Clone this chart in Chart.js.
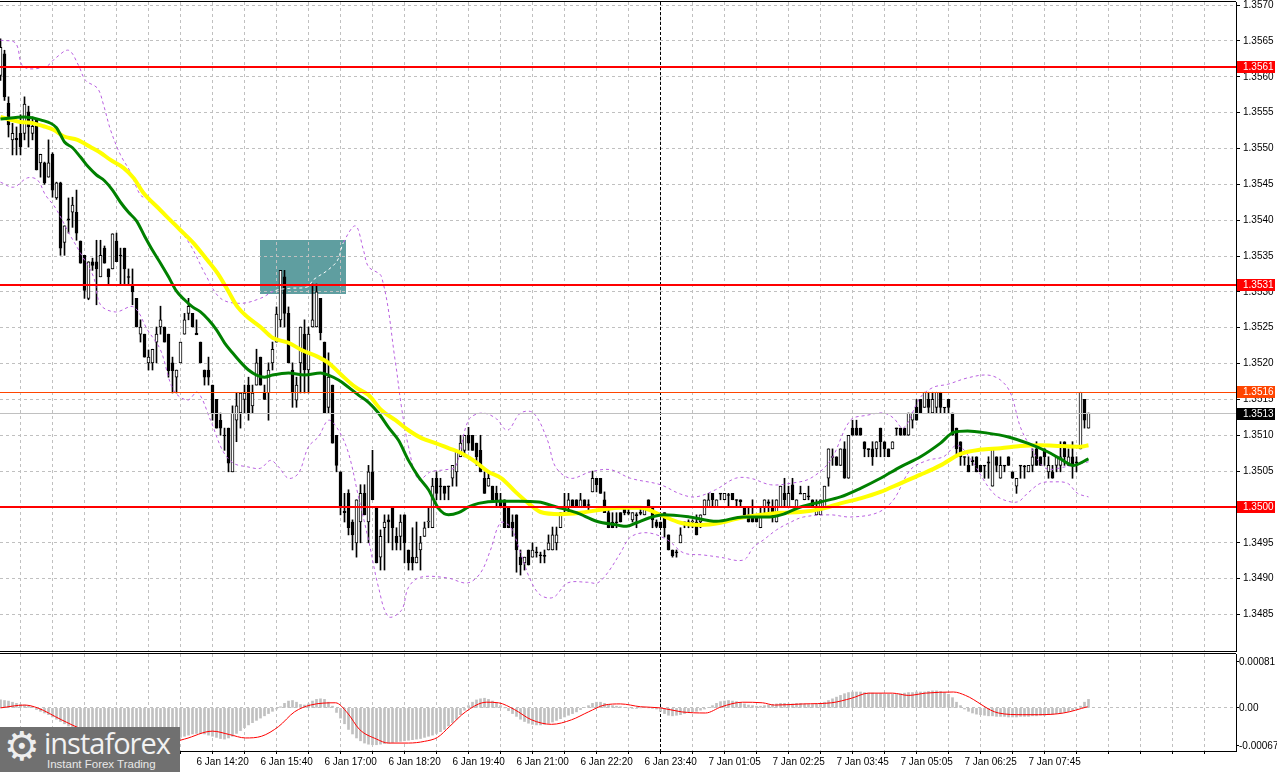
<!DOCTYPE html>
<html>
<head>
<meta charset="utf-8">
<title>GBPUSD-like M5 chart</title>
<script src="https://cdn.jsdelivr.net/npm/chart.js@4.4.0/dist/chart.umd.min.js"></script>
<style>
  html, body { margin: 0; padding: 0; background: #fff; }
  #wrap { position: relative; width: 1277px; height: 772px; overflow: hidden; background: #fff; }
  #priceCanvas { position: absolute; left: 0; top: 0; }
  #macdCanvas { position: absolute; left: 0; top: 653px; }
  #logo { position: absolute; left: 0; top: 727px; width: 180px; height: 45px; background: #707070; overflow: hidden; }
  #logo .gear { position: absolute; left: 4px; top: -4px; font: 40px 'DejaVu Sans', sans-serif; color: #eeeeee; }
  #logo .brand { position: absolute; left: 44px; top: 1px; font: 29px/30px 'Open Sans', sans-serif; letter-spacing: -1px; color: #f2f2f2; }
  #logo .tag { position: absolute; left: 47px; top: 31px; font: 11.5px/12px 'Liberation Sans', sans-serif; color: #e8e8e8; }
</style>
</head>
<body>
<div id="wrap">
  <canvas id="priceCanvas" width="1277" height="652"></canvas>
  <canvas id="macdCanvas" width="1277" height="119"></canvas>
  <div id="logo"><span class="gear">⚙</span><span class="brand">instaforex</span><span class="tag">Instant Forex Trading</span></div>
</div>
<script>
// M5 candles, one per bar index (bar 49 = 6 Jan 14:20)
const opens = [
  1.35602,1.35632,1.35563,1.35512,1.35514,1.35521,1.35521,1.35551,1.35521,1.35542,
  1.35480,1.35480,1.35460,1.35492,1.35431,1.35452,1.35369,1.35402,1.35411,1.35411,
  1.35371,1.35351,1.35291,1.35342,1.35342,1.35321,1.35361,1.35332,1.35332,1.35371,
  1.35351,1.35361,1.35321,1.35309,1.35291,1.35241,1.35241,1.35201,1.35201,1.35230,
  1.35251,1.35251,1.35241,1.35201,1.35181,1.35201,1.35241,1.35270,1.35270,1.35242,
  1.35230,1.35191,1.35191,1.35170,1.35150,1.35121,1.35100,1.35110,1.35049,1.35121,
  1.35131,1.35150,1.35170,1.35141,1.35170,1.35209,1.35159,1.35159,1.35201,1.35230,
  1.35261,1.35321,1.35270,1.35191,1.35149,1.35201,1.35241,1.35191,1.35251,1.35251,
  1.35291,1.35230,1.35139,1.35170,1.35100,1.35049,1.34994,1.35019,1.34979,1.34950,
  1.34979,1.35019,1.34979,1.35049,1.35000,1.34930,1.34971,1.34982,1.35000,1.34959,
  1.34959,1.34989,1.34940,1.34930,1.34922,1.34940,1.34959,1.34979,1.34971,1.35040,
  1.35029,1.35029,1.35029,1.35040,1.35049,1.35070,1.35079,1.35100,1.35100,1.35089,
  1.35079,1.35040,1.35029,1.35029,1.35019,1.35010,1.35010,1.35000,1.34979,1.34989,
  1.34930,1.34922,1.34940,1.34930,1.34937,1.34933,1.34932,1.34940,1.34940,1.34950,
  1.34971,1.35000,1.35000,1.35010,1.35010,1.35000,1.35010,1.35003,1.35021,1.35040,
  1.35040,1.35010,1.34992,1.34979,1.34979,1.34992,1.34998,1.34992,1.34982,1.34989,
  1.34992,1.34989,1.35010,1.35000,1.34979,1.34979,1.34992,1.34961,1.34940,1.34937,
  1.34950,1.34979,1.34979,1.34979,1.34979,1.34979,1.34989,1.35000,1.35019,1.35000,
  1.35019,1.35010,1.35017,1.35019,1.35010,1.35010,1.35000,1.34989,1.34989,1.34989,
  1.34971,1.35000,1.35007,1.35000,1.34979,1.35000,1.35019,1.35000,1.35031,1.35000,
  1.35019,1.35010,1.35015,1.35010,1.34989,1.34989,1.35000,1.35040,1.35070,1.35070,
  1.35058,1.35081,1.35040,1.35110,1.35110,1.35110,1.35091,1.35081,1.35081,1.35081,
  1.35110,1.35091,1.35081,1.35081,1.35110,1.35110,1.35110,1.35100,1.35121,1.35139,
  1.35150,1.35139,1.35150,1.35131,1.35139,1.35160,1.35139,1.35150,1.35131,1.35110,
  1.35091,1.35070,1.35058,1.35065,1.35070,1.35058,1.35058,1.35063,1.35029,1.35070,
  1.35040,1.35058,1.35070,1.35049,1.35029,1.35058,1.35057,1.35049,1.35058,1.35081,
  1.35070,1.35081,1.35049,1.35049,1.35058,1.35058,1.35091,1.35058,1.35070,1.35063,
  1.35081,1.35150,1.35110
];
const highs = [
  1.35653,1.35637,1.35572,1.35535,1.35530,1.35547,1.35572,1.35559,1.35544,1.35542,
  1.35492,1.35481,1.35512,1.35494,1.35453,1.35453,1.35392,1.35431,1.35432,1.35442,
  1.35371,1.35351,1.35342,1.35347,1.35372,1.35372,1.35364,1.35332,1.35381,1.35382,
  1.35361,1.35361,1.35332,1.35332,1.35291,1.35261,1.35241,1.35219,1.35220,1.35251,
  1.35280,1.35251,1.35241,1.35209,1.35191,1.35230,1.35270,1.35291,1.35270,1.35261,
  1.35230,1.35191,1.35209,1.35170,1.35150,1.35131,1.35110,1.35110,1.35141,1.35159,
  1.35159,1.35170,1.35181,1.35170,1.35220,1.35209,1.35170,1.35201,1.35230,1.35279,
  1.35330,1.35330,1.35279,1.35201,1.35181,1.35251,1.35261,1.35251,1.35311,1.35311,
  1.35291,1.35230,1.35215,1.35170,1.35100,1.35049,1.35019,1.35024,1.34982,1.35010,
  1.35031,1.35031,1.35058,1.35079,1.35000,1.34968,1.34989,1.34989,1.35000,1.34971,
  1.34989,1.34989,1.34940,1.34971,1.34979,1.34959,1.34979,1.35000,1.35040,1.35049,
  1.35040,1.35029,1.35029,1.35058,1.35079,1.35100,1.35100,1.35111,1.35100,1.35089,
  1.35100,1.35049,1.35049,1.35029,1.35029,1.35019,1.35010,1.35000,1.34989,1.34989,
  1.34940,1.34930,1.34940,1.34950,1.34944,1.34937,1.34940,1.34961,1.34972,1.34972,
  1.34992,1.35019,1.35019,1.35010,1.35010,1.35019,1.35010,1.35010,1.35050,1.35040,
  1.35040,1.35021,1.35000,1.34992,1.34992,1.34992,1.35000,1.35000,1.34992,1.34992,
  1.35000,1.35000,1.35010,1.35000,1.34982,1.34979,1.34992,1.34961,1.34940,1.34940,
  1.34971,1.34979,1.34982,1.34982,1.34989,1.34989,1.35010,1.35019,1.35019,1.35010,
  1.35019,1.35019,1.35019,1.35019,1.35010,1.35010,1.35000,1.35000,1.35010,1.34989,
  1.35000,1.35010,1.35010,1.35010,1.35010,1.35029,1.35040,1.35029,1.35040,1.35010,
  1.35029,1.35019,1.35029,1.35010,1.35010,1.35010,1.35029,1.35081,1.35081,1.35070,
  1.35081,1.35091,1.35100,1.35121,1.35121,1.35110,1.35091,1.35081,1.35091,1.35091,
  1.35110,1.35091,1.35081,1.35091,1.35110,1.35110,1.35110,1.35131,1.35131,1.35150,
  1.35150,1.35160,1.35160,1.35160,1.35160,1.35160,1.35139,1.35150,1.35131,1.35110,
  1.35091,1.35070,1.35070,1.35070,1.35070,1.35058,1.35058,1.35070,1.35081,1.35070,
  1.35070,1.35058,1.35070,1.35049,1.35040,1.35058,1.35058,1.35058,1.35081,1.35091,
  1.35070,1.35081,1.35070,1.35058,1.35070,1.35091,1.35091,1.35081,1.35091,1.35070,
  1.35160,1.35150,1.35131
];
const lows = [
  1.35595,1.35567,1.35516,1.35491,1.35491,1.35491,1.35512,1.35502,1.35512,1.35470,
  1.35460,1.35450,1.35460,1.35432,1.35429,1.35351,1.35351,1.35382,1.35390,1.35372,
  1.35340,1.35291,1.35289,1.35330,1.35282,1.35321,1.35340,1.35309,1.35332,1.35342,
  1.35309,1.35309,1.35309,1.35282,1.35251,1.35230,1.35209,1.35191,1.35191,1.35201,
  1.35241,1.35230,1.35181,1.35159,1.35159,1.35201,1.35241,1.35261,1.35251,1.35241,
  1.35201,1.35170,1.35170,1.35121,1.35110,1.35100,1.35079,1.35049,1.35049,1.35091,
  1.35110,1.35131,1.35121,1.35131,1.35170,1.35170,1.35150,1.35121,1.35191,1.35230,
  1.35251,1.35251,1.35201,1.35139,1.35139,1.35159,1.35159,1.35159,1.35251,1.35251,
  1.35233,1.35131,1.35131,1.35089,1.35049,1.34989,1.34979,1.34961,1.34940,1.34930,
  1.34950,1.34989,1.34950,1.35010,1.34922,1.34912,1.34912,1.34950,1.34940,1.34940,
  1.34940,1.34922,1.34912,1.34912,1.34922,1.34912,1.34959,1.34971,1.34971,1.35010,
  1.35010,1.35010,1.35010,1.35029,1.35029,1.35070,1.35070,1.35079,1.35079,1.35058,
  1.35049,1.35019,1.35029,1.35010,1.35000,1.35000,1.34971,1.34971,1.34959,1.34909,
  1.34905,1.34912,1.34919,1.34930,1.34930,1.34922,1.34922,1.34940,1.34940,1.34940,
  1.34971,1.34992,1.34992,1.35000,1.35000,1.35000,1.35000,1.34992,1.35021,1.35021,
  1.35019,1.34992,1.34971,1.34971,1.34971,1.34979,1.34989,1.34989,1.34979,1.34971,
  1.34989,1.34989,1.35000,1.34971,1.34971,1.34971,1.34958,1.34940,1.34930,1.34930,
  1.34950,1.34971,1.34971,1.34971,1.34961,1.34971,1.34989,1.35000,1.35000,1.35000,
  1.35010,1.35010,1.35000,1.35010,1.35000,1.35000,1.34989,1.34979,1.34979,1.34979,
  1.34971,1.34989,1.34989,1.34979,1.34979,1.35000,1.35000,1.35000,1.35010,1.35000,
  1.35019,1.35010,1.35010,1.35000,1.34989,1.34989,1.35000,1.35029,1.35058,1.35058,
  1.35058,1.35040,1.35040,1.35100,1.35100,1.35100,1.35070,1.35070,1.35058,1.35070,
  1.35070,1.35070,1.35070,1.35081,1.35100,1.35100,1.35100,1.35100,1.35110,1.35121,
  1.35131,1.35139,1.35131,1.35131,1.35131,1.35131,1.35131,1.35131,1.35100,1.35070,
  1.35058,1.35058,1.35049,1.35058,1.35049,1.35049,1.35040,1.35040,1.35029,1.35049,
  1.35040,1.35049,1.35058,1.35040,1.35019,1.35040,1.35040,1.35049,1.35049,1.35058,
  1.35058,1.35058,1.35040,1.35040,1.35049,1.35049,1.35058,1.35058,1.35040,1.35049,
  1.35081,1.35110,1.35110
];
const closes = [
  1.35641,1.35572,1.35533,1.35521,1.35512,1.35502,1.35562,1.35530,1.35531,1.35470,
  1.35492,1.35452,1.35480,1.35442,1.35452,1.35361,1.35392,1.35400,1.35421,1.35382,
  1.35340,1.35302,1.35342,1.35337,1.35332,1.35351,1.35340,1.35321,1.35381,1.35342,
  1.35350,1.35332,1.35320,1.35300,1.35251,1.35251,1.35209,1.35209,1.35220,1.35241,
  1.35261,1.35230,1.35190,1.35190,1.35191,1.35230,1.35261,1.35280,1.35251,1.35240,
  1.35201,1.35181,1.35181,1.35131,1.35110,1.35110,1.35099,1.35061,1.35131,1.35141,
  1.35159,1.35159,1.35131,1.35159,1.35201,1.35170,1.35150,1.35191,1.35220,1.35269,
  1.35330,1.35270,1.35201,1.35159,1.35170,1.35251,1.35191,1.35241,1.35261,1.35300,
  1.35243,1.35131,1.35181,1.35089,1.35058,1.35000,1.34992,1.34971,1.34961,1.35010,
  1.35019,1.34989,1.35049,1.35010,1.34922,1.34959,1.34979,1.34979,1.34971,1.34950,
  1.34979,1.34950,1.34922,1.34922,1.34930,1.34950,1.34971,1.34980,1.35029,1.35019,
  1.35028,1.35019,1.35028,1.35058,1.35079,1.35089,1.35100,1.35089,1.35079,1.35070,
  1.35049,1.35019,1.35040,1.35010,1.35010,1.35000,1.34971,1.34971,1.34971,1.34940,
  1.34919,1.34930,1.34919,1.34940,1.34936,1.34932,1.34931,1.34950,1.34961,1.34961,
  1.34992,1.34999,1.35010,1.35000,1.35000,1.35010,1.35000,1.35002,1.35040,1.35031,
  1.35019,1.34992,1.34971,1.34971,1.34978,1.34979,1.34992,1.34991,1.34992,1.34988,
  1.34991,1.35000,1.35000,1.34982,1.34973,1.34971,1.34971,1.34940,1.34932,1.34936,
  1.34961,1.34978,1.34978,1.34980,1.34961,1.34989,1.35010,1.35010,1.35010,1.35010,
  1.35018,1.35019,1.35016,1.35010,1.35009,1.35007,1.34989,1.34979,1.34979,1.34979,
  1.34989,1.35010,1.35005,1.34989,1.35010,1.35029,1.35010,1.35019,1.35010,1.35010,
  1.35018,1.35019,1.35014,1.35000,1.35000,1.35010,1.35029,1.35081,1.35069,1.35058,
  1.35081,1.35040,1.35100,1.35100,1.35100,1.35100,1.35081,1.35080,1.35070,1.35091,
  1.35091,1.35081,1.35070,1.35091,1.35109,1.35100,1.35100,1.35131,1.35131,1.35121,
  1.35131,1.35160,1.35139,1.35150,1.35160,1.35139,1.35138,1.35139,1.35100,1.35081,
  1.35070,1.35069,1.35049,1.35063,1.35049,1.35049,1.35057,1.35061,1.35081,1.35058,
  1.35058,1.35057,1.35058,1.35040,1.35040,1.35057,1.35056,1.35058,1.35070,1.35058,
  1.35058,1.35070,1.35058,1.35040,1.35070,1.35070,1.35070,1.35070,1.35058,1.35061,
  1.35160,1.35121,1.35131
];

// moving averages and bands, read at sample bars
const greenMaBars = [0,6,10,14,15,16,18,20,22,24,26,28,30,32,34,36,38,40,42,44,46,48,50,52,54,56,58,60,62,64,66,68,72,76,80,82,84.5,87,89.5,92,94.5,97,99.5,102,104.5,107,109.5,112,114.5,117,119.5,124.5,129.5,134.5,139,144,149,154,156.5,159,162.25,165.75,172.25,179,185.75,192.25,195.75,200,205,210,215,220,225,230,235,238.25,241.75,246.75,251.75,256.75,261.75,265,268.25,272];
const greenMaValues = [1.35541,1.35544,1.35540,1.35529,1.35519,1.35509,1.35501,1.35488,1.35474,1.35463,1.35455,1.35442,1.35425,1.35411,1.35399,1.35378,1.35358,1.35340,1.35321,1.35301,1.35289,1.35279,1.35272,1.35261,1.35247,1.35229,1.35215,1.35202,1.35191,1.35184,1.35181,1.35184,1.35187,1.35184,1.35187,1.35184,1.35177,1.35167,1.35156,1.35146,1.35131,1.35111,1.35093,1.35065,1.35042,1.35024,1.34998,1.34989,1.34992,1.35000,1.35005,1.35008,1.35008,1.35007,1.35000,1.34992,1.34980,1.34975,1.34973,1.34978,1.34985,1.34989,1.34986,1.34980,1.34986,1.34986,1.34990,1.35000,1.35007,1.35014,1.35026,1.35040,1.35056,1.35070,1.35089,1.35104,1.35106,1.35103,1.35098,1.35089,1.35077,1.35067,1.35058,1.35067];
const yellowMaBars = [0,5,8.25,10.75,13.25,15.75,19.25,22.5,25,27.5,30.75,33.25,35.75,39.25,41.75,45,48.25,51.75,54.25,56.75,59.25,61.75,65,68,72,75.25,79.5,82,85.25,88.75,92,95.25,98.75,102,105.25,108.75,112,115.25,118.75,122,125.25,128.75,132,135,140,145,150,155,160,165,170,175,180,185,190,195,200,205,210,215,220,225,230,235,240,245,250,255,260,265,270,272];
const yellowMaValues = [1.35544,1.35537,1.35535,1.35531,1.35526,1.35517,1.35512,1.35502,1.35494,1.35484,1.35473,1.35459,1.35438,1.35418,1.35404,1.35386,1.35368,1.35344,1.35326,1.35303,1.35279,1.35265,1.35251,1.35236,1.35229,1.35219,1.35209,1.35201,1.35184,1.35167,1.35156,1.35135,1.35121,1.35107,1.35096,1.35089,1.35082,1.35075,1.35063,1.35049,1.35040,1.35021,1.35005,1.34993,1.34990,1.34992,1.34996,1.34999,1.34999,1.34989,1.34978,1.34975,1.34978,1.34985,1.34989,1.34992,1.34993,1.34997,1.35005,1.35012,1.35021,1.35033,1.35045,1.35058,1.35074,1.35080,1.35082,1.35085,1.35086,1.35085,1.35084,1.35086];
const upperBandBars = [0,3.75,5.75,11.25,13.75,17,19.5,21.25,24.25,25.75,27.5,30,32.5,35,37.5,40,43.75,47.5,51.25,55,60,65,68.75,72.5,76.75,78.25,81.75,84.25,85.75,88.75,90.75,92,95.25,98.75,100.25,102,104.5,107.5,111.25,113.75,117,120.25,123.75,126.75,130,133.25,136.75,138.75,142.5,147.5,152.5,157.5,165,170,173.75,178.75,183.75,187.5,192.5,197.5,202.5,207.5,212.5,216.75,220.75,223.25,225.75,230,233.25,236.75,241.75,246.75,250,252.5,255,257.5,261.25,266.25,272];
const upperBandValues = [1.35651,1.35647,1.35614,1.35614,1.35626,1.35637,1.35616,1.35595,1.35584,1.35561,1.35526,1.35491,1.35467,1.35435,1.35428,1.35411,1.35393,1.35365,1.35324,1.35291,1.35284,1.35291,1.35302,1.35305,1.35307,1.35317,1.35330,1.35344,1.35369,1.35392,1.35358,1.35335,1.35321,1.35201,1.35139,1.35084,1.35038,1.35049,1.35052,1.35056,1.35121,1.35131,1.35124,1.35107,1.35131,1.35131,1.35093,1.35056,1.35040,1.35049,1.35052,1.35040,1.35031,1.35018,1.35014,1.35024,1.35040,1.35040,1.35031,1.35033,1.35040,1.35065,1.35121,1.35128,1.35131,1.35124,1.35110,1.35153,1.35167,1.35171,1.35180,1.35184,1.35177,1.35159,1.35111,1.35084,1.35054,1.35056,1.35063];
const lowerBandBars = [0,3.25,6.75,9.25,11.25,13.75,17,20,23.25,25,28.75,33.25,36.75,40,43.25,46.75,49.25,52.5,55.5,58.25,61.75,65,67.5,69.5,72,74.5,77,79.5,82,84.5,87,89.5,92,94.5,97,100.25,102,105,111.75,116.75,120,122.5,125,127.5,130,132.5,135,138.25,141.75,146.75,149.25,151.75,155,157.5,161.75,166.75,170.75,175.75,179.75,185.75,188.25,190.75,194,197.25,200.75,207.5,212.5,219.25,223.25,227.5,231.75,235.75,239.25,243.25,245.75,248.25,250.75,254.25,256.75,260,263.25,266.75,269.25,272];
const lowerBandValues = [1.35453,1.35446,1.35459,1.35456,1.35435,1.35417,1.35383,1.35354,1.35321,1.35282,1.35272,1.35279,1.35247,1.35219,1.35163,1.35149,1.35160,1.35121,1.35079,1.35061,1.35056,1.35054,1.35065,1.35056,1.35040,1.35047,1.35084,1.35098,1.35121,1.35107,1.35075,1.35014,1.34954,1.34888,1.34847,1.34856,1.34888,1.34902,1.34901,1.34894,1.34908,1.34940,1.34978,1.34972,1.34936,1.34898,1.34877,1.34874,1.34894,1.34895,1.34894,1.34908,1.34936,1.34958,1.34964,1.34954,1.34936,1.34933,1.34930,1.34926,1.34944,1.34954,1.34968,1.34978,1.34986,1.34989,1.34986,1.34992,1.35010,1.35052,1.35065,1.35070,1.35086,1.35061,1.35038,1.35019,1.35010,1.35007,1.35019,1.35033,1.35035,1.35033,1.35019,1.35014];

// MACD window
const macdHist = [
  0.00014,0.00013,0.00012,0.00010,0.00008,0.00006,0.00005,0.00004,0.00002,-0.00003,
  -0.00006,-0.00009,-0.00012,-0.00016,-0.00020,-0.00024,-0.00028,-0.00032,-0.00035,-0.00037,
  -0.00039,-0.00041,-0.00043,-0.00044,-0.00045,-0.00045,-0.00046,-0.00046,-0.00047,-0.00047,
  -0.00047,-0.00048,-0.00048,-0.00049,-0.00050,-0.00051,-0.00052,-0.00053,-0.00054,-0.00055,
  -0.00055,-0.00055,-0.00054,-0.00054,-0.00053,-0.00052,-0.00050,-0.00048,-0.00046,-0.00045,
  -0.00045,-0.00046,-0.00048,-0.00050,-0.00052,-0.00054,-0.00055,-0.00053,-0.00050,-0.00045,
  -0.00040,-0.00035,-0.00030,-0.00026,-0.00022,-0.00018,-0.00014,-0.00010,-0.00006,-0.00002,
  0.00002,0.00008,0.00012,0.00013,0.00010,0.00006,0.00005,0.00007,0.00012,0.00015,
  0.00016,0.00015,0.00010,0.00003,-0.00008,-0.00018,-0.00028,-0.00038,-0.00046,-0.00053,
  -0.00058,-0.00062,-0.00064,-0.00065,-0.00065,-0.00064,-0.00063,-0.00062,-0.00061,-0.00060,
  -0.00059,-0.00058,-0.00057,-0.00056,-0.00055,-0.00054,-0.00052,-0.00050,-0.00048,-0.00045,
  -0.00042,-0.00038,-0.00032,-0.00026,-0.00020,-0.00012,-0.00004,0.00004,0.00010,0.00014,
  0.00016,0.00017,0.00015,0.00012,0.00008,0.00004,0.00000,-0.00005,-0.00010,-0.00015,
  -0.00020,-0.00024,-0.00027,-0.00029,-0.00030,-0.00030,-0.00029,-0.00027,-0.00025,-0.00022,
  -0.00019,-0.00016,-0.00013,-0.00010,-0.00007,-0.00003,0.00001,0.00004,0.00008,0.00010,
  0.00010,0.00008,0.00006,0.00004,0.00003,0.00002,0.00001,0.00000,-0.00001,-0.00001,
  0.00000,0.00001,0.00000,-0.00001,-0.00002,-0.00006,-0.00010,-0.00013,-0.00014,-0.00013,
  -0.00012,-0.00010,-0.00008,-0.00007,-0.00006,-0.00004,-0.00002,0.00001,0.00004,0.00008,
  0.00011,0.00012,0.00013,0.00012,0.00011,0.00009,0.00007,0.00005,0.00004,0.00003,
  0.00003,0.00004,0.00005,0.00006,0.00007,0.00008,0.00008,0.00007,0.00007,0.00008,
  0.00008,0.00007,0.00006,0.00006,0.00007,0.00008,0.00010,0.00013,0.00016,0.00019,
  0.00022,0.00025,0.00027,0.00028,0.00028,0.00028,0.00027,0.00026,0.00026,0.00025,
  0.00025,0.00024,0.00024,0.00024,0.00024,0.00025,0.00026,0.00027,0.00027,0.00028,
  0.00028,0.00028,0.00029,0.00030,0.00030,0.00029,0.00027,0.00024,0.00018,0.00010,
  0.00004,-0.00002,-0.00006,-0.00009,-0.00011,-0.00012,-0.00013,-0.00014,-0.00014,-0.00015,
  -0.00015,-0.00015,-0.00016,-0.00016,-0.00016,-0.00015,-0.00015,-0.00015,-0.00014,-0.00014,
  -0.00013,-0.00013,-0.00012,-0.00011,-0.00010,-0.00009,-0.00008,-0.00006,-0.00004,-0.00002,
  0.00003,0.00010,0.00015
];
const signalBars = [0,6,9.25,15.25,20.5,28.5,33.75,40,46,53,57.25,61.25,65.25,69.5,73.5,77.5,83.75,86.75,89.75,94,97,102,106,109.25,112.25,116.25,121.5,124.5,128.5,132.75,137.75,142.75,147,151,155,160,165,170.25,176.25,180.25,185.5,190.5,193.5,200.75,207.75,212.75,217,223,227,231.25,238.25,241.25,249.5,255.5,259.5,265.75,271.75];
const signalValues = [0,0.00005,0,-0.00021,-0.00038,-0.00055,-0.00060,-0.00064,-0.00055,-0.00041,-0.00047,-0.00053,-0.00050,-0.00033,-0.00007,0.00005,0.00009,-0.00009,-0.00038,-0.00055,-0.00062,-0.00062,-0.00059,-0.00052,-0.00033,-0.00007,0.00010,0.00009,-0.00003,-0.00021,-0.00029,-0.00021,-0.00007,0.00005,0.00007,0.00002,0,-0.00007,-0.00009,0.00002,0.00010,0.00009,0.00005,0.00007,0.00009,0.00017,0.00026,0.00026,0.00022,0.00026,0.00028,0.00022,-0.00009,-0.00012,-0.00012,-0.00009,0.00002];

// axes
const timeTickBars = [49,65,81,97,113,129,145,161,177,193,209,225,241,257];
const timeTickLabels = ['6 Jan 14:20','6 Jan 15:40','6 Jan 17:00','6 Jan 18:20','6 Jan 19:40','6 Jan 21:00','6 Jan 22:20','6 Jan 23:40','7 Jan 01:05','7 Jan 02:25','7 Jan 03:45','7 Jan 05:05','7 Jan 06:25','7 Jan 07:45'];
const priceTicks = [1.3485,1.3490,1.3495,1.3500,1.3505,1.3510,1.3515,1.3520,1.3525,1.3530,1.3535,1.3540,1.3545,1.3550,1.3555,1.3560,1.3565,1.3570];
const macdTicks = [-0.00067, 0, 0.00081];

// chart objects
const redLevels = [1.35614, 1.35309, 1.3500];
const resistanceLevel = 1.3516;
const bidPrice = 1.3513;
const zoneBars = [64.9, 86.3];
const zonePrices = [1.35296, 1.35372];
const daySeparatorBar = 165;

Chart.defaults.font.family = "'Liberation Sans', Arial, sans-serif";
Chart.defaults.font.size = 10;
Chart.defaults.color = '#000';

const GRID = '#c0c0c0';
const BAND = '#b960e0';
const xMin = -0.125, xMax = 308.875;
const gridBars = [];
for (let b = 1; b <= 305; b += 8) gridBars.push(b);

const pts = (xs, ys) => xs.map((x, k) => ({ x: x, y: ys[k] }));
const bars = closes.map((_, i) => i);

const inZone = (p) => p.x >= zoneBars[0] && p.x <= zoneBars[1] && p.y >= zonePrices[0] && p.y <= zonePrices[1];

// keep chart areas exactly where the layout wants them
const noPadX = h => s => { s.height = h; s.paddingLeft = 0; s.paddingRight = 0; };
const noPadY = s => { s.width = 41; s.paddingTop = 0; s.paddingBottom = 0; };

function drawSeparator(chart) {
  const { ctx, chartArea, scales } = chart;
  const px = Math.floor(scales.x.getPixelForValue(daySeparatorBar)) + 0.5;
  ctx.save();
  ctx.strokeStyle = '#000';
  ctx.lineWidth = 1;
  ctx.setLineDash([3, 2]);
  ctx.beginPath();
  ctx.moveTo(px, chartArea.top);
  ctx.lineTo(px, chartArea.bottom);
  ctx.stroke();
  ctx.restore();
}

function drawFrame(chart) {
  const { ctx, chartArea } = chart;
  ctx.save();
  ctx.strokeStyle = '#000';
  ctx.lineWidth = 1;
  ctx.beginPath();
  ctx.moveTo(0, chartArea.top - 0.5);
  ctx.lineTo(chartArea.right, chartArea.top - 0.5);
  ctx.moveTo(0, chartArea.bottom + 0.5);
  ctx.lineTo(chartArea.right, chartArea.bottom + 0.5);
  ctx.stroke();
  ctx.restore();
}

const pricePlugin = {
  id: 'priceDecor',
  beforeDraw(chart) {
    const { ctx, scales: { x, y } } = chart;
    const l = x.getPixelForValue(zoneBars[0]), r = x.getPixelForValue(zoneBars[1]);
    const t = y.getPixelForValue(zonePrices[1]), b = y.getPixelForValue(zonePrices[0]);
    ctx.save();
    ctx.fillStyle = '#5f9ea0';
    ctx.fillRect(Math.round(l), Math.round(t), Math.round(r - l), Math.round(b - t));
    ctx.restore();
  },
  beforeDatasetsDraw(chart) { drawSeparator(chart); },
  afterDatasetsDraw(chart) {
    const { ctx, chartArea, scales: { y } } = chart;
    ctx.save();
    ctx.beginPath();
    ctx.rect(chartArea.left, chartArea.top, chartArea.right - chartArea.left, chartArea.bottom - chartArea.top);
    ctx.clip();
    const hline = (v, color, w) => {
      const yp = w === 2 ? Math.round(y.getPixelForValue(v)) : Math.floor(y.getPixelForValue(v)) + 0.5;
      ctx.strokeStyle = color;
      ctx.lineWidth = w;
      ctx.beginPath();
      ctx.moveTo(chartArea.left, yp);
      ctx.lineTo(chartArea.right, yp);
      ctx.stroke();
    };
    hline(bidPrice, '#c0c0c0', 1);
    hline(resistanceLevel, '#ff4500', 1);
    redLevels.forEach(v => hline(v, '#ff0000', 2));
    ctx.restore();
  },
  afterDraw(chart) {
    drawFrame(chart);
    const { ctx, chartArea, scales: { y } } = chart;
    const badge = (v, bg) => {
      const yp = Math.round(y.getPixelForValue(v));
      ctx.fillStyle = bg;
      ctx.fillRect(chartArea.right + 1, yp - 6, 38, 12);
      ctx.fillStyle = '#fff';
      ctx.textAlign = 'left';
      ctx.textBaseline = 'middle';
      ctx.fillText(v.toFixed(4), chartArea.right + 7, yp);
    };
    ctx.save();
    ctx.font = "10px 'Liberation Sans', Arial, sans-serif";
    badge(resistanceLevel, '#ff4500');
    badge(bidPrice, '#000000');
    redLevels.forEach(v => badge(v, '#ff0000'));
    ctx.restore();
  }
};

const macdPlugin = {
  id: 'macdDecor',
  beforeDatasetsDraw(chart) { drawSeparator(chart); },
  afterDraw(chart) { drawFrame(chart); }
};

new Chart(document.getElementById('priceCanvas'), {
  type: 'bar',
  data: {
    datasets: [
      {
        type: 'line', label: 'MA fast', order: 0,
        data: pts(greenMaBars, greenMaValues),
        borderColor: '#008000', borderWidth: 3, pointRadius: 0,
        cubicInterpolationMode: 'monotone', fill: false
      },
      {
        type: 'line', label: 'MA slow', order: 1,
        data: pts(yellowMaBars, yellowMaValues),
        borderColor: '#ffff00', borderWidth: 4, pointRadius: 0,
        cubicInterpolationMode: 'monotone', fill: false
      },
      {
        type: 'line', label: 'Upper band', order: 2,
        data: pts(upperBandBars, upperBandValues),
        borderColor: BAND, borderWidth: 1, borderDash: [3, 3], pointRadius: 0,
        tension: 0.35, fill: false,
        segment: { borderColor: c => (inZone(c.p0.parsed) && inZone(c.p1.parsed)) ? '#ffffff' : BAND }
      },
      {
        type: 'line', label: 'Lower band', order: 3,
        data: pts(lowerBandBars, lowerBandValues),
        borderColor: BAND, borderWidth: 1, borderDash: [3, 3], pointRadius: 0,
        tension: 0.35, fill: false
      },
      {
        label: 'Body', order: 4,
        data: bars.map(i => ({ x: i, y: [opens[i], closes[i]] })),
        backgroundColor: bars.map(i => closes[i] >= opens[i] ? '#ffffff' : '#000000'),
        borderColor: '#000000', borderWidth: 1, borderSkipped: false,
        barThickness: 3, minBarLength: 1, grouped: false
      },
      {
        label: 'Wick', order: 5,
        data: bars.map(i => ({ x: i, y: [lows[i], highs[i]] })),
        backgroundColor: '#000000', borderWidth: 0,
        barThickness: 1, minBarLength: 1, grouped: false
      }
    ]
  },
  options: {
    responsive: false, animation: false, devicePixelRatio: 1, events: [],
    layout: { padding: { top: 2, bottom: 1, left: 0, right: 0 } },
    plugins: { legend: { display: false }, tooltip: { enabled: false } },
    scales: {
      x: {
        type: 'linear', min: xMin, max: xMax, offset: false,
        afterBuildTicks: s => { s.ticks = gridBars.map(v => ({ value: v })); },
        afterFit: noPadX(0),
        ticks: { display: false },
        grid: { color: GRID, drawTicks: false },
        border: { display: false, dash: [3, 3] }
      },
      y: {
        position: 'right', min: 1.347991, max: 1.357043,
        afterBuildTicks: s => { s.ticks = priceTicks.map(v => ({ value: v })); },
        afterFit: noPadY,
        ticks: { autoSkip: false, padding: 3, callback: v => v.toFixed(4), color: '#000' },
        grid: { color: GRID, tickLength: 4, tickColor: '#000' },
        border: { display: true, color: '#000', width: 1, dash: [3, 3] }
      }
    }
  },
  plugins: [pricePlugin]
});

new Chart(document.getElementById('macdCanvas'), {
  type: 'bar',
  data: {
    datasets: [
      {
        type: 'line', label: 'Signal', order: 0,
        data: pts(signalBars, signalValues),
        borderColor: '#ff0000', borderWidth: 1, pointRadius: 0,
        cubicInterpolationMode: 'monotone', fill: false
      },
      {
        label: 'MACD', order: 1,
        data: bars.map(i => ({ x: i, y: macdHist[i] })),
        backgroundColor: '#c0c0c0', borderWidth: 0,
        barThickness: 2, grouped: false
      }
    ]
  },
  options: {
    responsive: false, animation: false, devicePixelRatio: 1, events: [],
    layout: { padding: { top: 1, bottom: 0, left: 0, right: 0 } },
    plugins: { legend: { display: false }, tooltip: { enabled: false } },
    scales: {
      x: {
        type: 'linear', min: xMin, max: xMax, offset: false,
        afterBuildTicks: s => { s.ticks = gridBars.map(v => ({ value: v })); },
        afterFit: noPadX(21),
        ticks: {
          autoSkip: false, maxRotation: 0, minRotation: 0, align: 'start', padding: 2, color: '#000',
          callback: v => { const k = timeTickBars.indexOf(v); return k >= 0 ? timeTickLabels[k] : ''; }
        },
        grid: { color: GRID, tickLength: 3, tickColor: '#000' },
        border: { display: false, dash: [3, 3] }
      },
      y: {
        position: 'right', min: -0.00076, max: 0.00095,
        afterBuildTicks: s => { s.ticks = macdTicks.map(v => ({ value: v })); },
        afterFit: noPadY,
        ticks: { autoSkip: false, padding: 0, color: '#000', callback: v => v === 0 ? '0.00' : v.toFixed(5) },
        grid: { color: c => (c.tick && c.tick.value === 0) ? GRID : 'rgba(0,0,0,0)', tickLength: 3, tickColor: '#000' },
        border: { display: true, color: '#000', width: 1, dash: [3, 3] }
      }
    }
  },
  plugins: [macdPlugin]
});
</script>
</body>
